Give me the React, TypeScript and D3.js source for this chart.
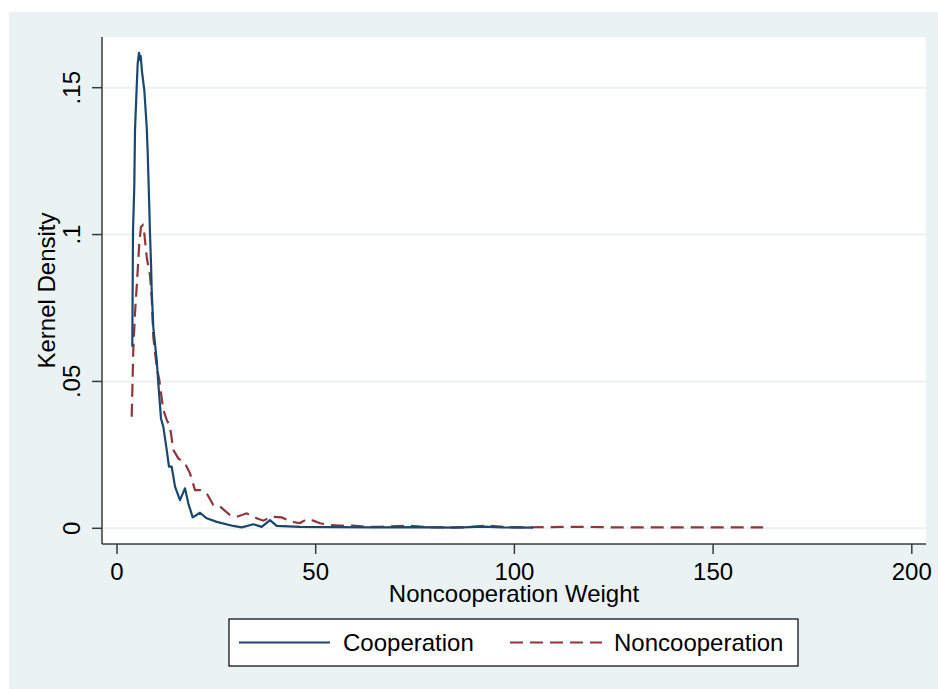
import React from "react";
import * as d3 from "d3";

// Kernel density estimates of the noncooperation weight, by group
const coopX = [3.85, 4.03, 4.35, 4.53, 4.96, 5.21, 5.54, 5.79, 5.96, 6.29, 6.87, 7.47, 7.73, 8.05, 8.3, 8.56, 8.73, 9.13, 9.99, 10.39, 11.07, 11.65, 12.51, 13.08, 13.76, 14.6, 15.85, 17.11, 17.94, 19.05, 20.89, 22.57, 25.09, 29.27, 31.38, 34.3, 36.41, 38.5, 40.19, 46.05, 55, 65, 75, 85, 92, 97, 104.7];
const coopY = [0.0618, 0.1015, 0.1163, 0.1356, 0.1503, 0.1583, 0.1619, 0.1595, 0.1608, 0.1555, 0.1492, 0.1367, 0.1277, 0.1129, 0.1005, 0.0903, 0.0811, 0.0686, 0.0573, 0.0494, 0.0374, 0.0346, 0.0267, 0.021, 0.021, 0.0142, 0.0096, 0.0136, 0.0085, 0.0037, 0.0053, 0.0034, 0.0022, 0.0008, 0.0003, 0.0014, 0.0005, 0.0028, 0.0008, 0.0005, 0.0004, 0.0003, 0.0004, 0.0002, 0.0006, 0.0003, 0.0002];

const noncoopX = [3.7, 4.1, 4.53, 4.96, 5.21, 5.61, 6.04, 6.47, 6.87, 7.47, 8.05, 8.3, 8.73, 9.13, 9.99, 10.64, 11.65, 12.51, 13.34, 14.17, 15.42, 17.11, 18.37, 19.63, 20.89, 22.57, 24.23, 25.92, 28.43, 30.12, 32.64, 35.15, 36.81, 38.93, 41.44, 43.96, 46.05, 47.74, 49.4, 51.08, 53.6, 56.11, 59.46, 62.83, 66.18, 72.9, 78.76, 87.14, 93.03, 99.72, 116.5, 126.6, 146.7, 162.6];
const noncoopY = [0.038, 0.0607, 0.0733, 0.0822, 0.0879, 0.0971, 0.1026, 0.1032, 0.1004, 0.0924, 0.0879, 0.0862, 0.0788, 0.0652, 0.055, 0.0505, 0.0403, 0.0369, 0.0346, 0.0267, 0.0238, 0.0221, 0.0187, 0.013, 0.013, 0.0119, 0.0079, 0.0074, 0.0045, 0.0039, 0.0051, 0.0034, 0.0026, 0.0039, 0.0037, 0.0022, 0.0018, 0.0031, 0.0026, 0.0017, 0.0011, 0.0009, 0.0009, 0.0005, 0.0005, 0.0009, 0.0003, 0.0003, 0.0009, 0.0003, 0.0005, 0.0003, 0.0003, 0.0003];

const xTicks = [0, 50, 100, 150, 200];
const yTicks = [0, 0.05, 0.1, 0.15];
const yTickLabels = ["0", ".05", ".1", ".15"];
const seriesNames = ["Cooperation", "Noncooperation"];
const xTitle = "Noncooperation Weight";
const yTitle = "Kernel Density";

const W = 938;
const H = 689;
const plot = { left: 102, right: 926, top: 37, bottom: 544 };
const BG = "#eaf2f3";
const BLUE = "#1a476f";
const RED = "#90353b";
const AXIS = "#3a3a3a";
const FONT = "'Liberation Sans', Arial, sans-serif";
const FS = 24;

export default function App() {
  const x = d3.scaleLinear().domain([0, 200]).range([117, 911.8]);
  const y = d3.scaleLinear().domain([0, 0.15]).range([528.3, 87.7]);

  const line = d3
    .line<[number, number]>()
    .x((d) => x(d[0]))
    .y((d) => y(d[1]))
    .curve(d3.curveLinear);

  const coop = coopX.map((v, i) => [v, coopY[i]] as [number, number]);
  const noncoop = noncoopX.map((v, i) => [v, noncoopY[i]] as [number, number]);

  const legend = { x: 229, y: 619, w: 569, h: 47 };
  const legendMid = legend.y + legend.h / 2;

  return (
    <svg
      width={W}
      height={H}
      style={{ position: "absolute", left: 0, top: 0, fontFamily: FONT }}
    >
      <rect x={0} y={0} width={W} height={H} fill="#ffffff" />
      <rect x={9} y={12} width={W - 9} height={H - 12} fill={BG} />
      <rect
        x={plot.left}
        y={plot.top}
        width={plot.right - plot.left}
        height={plot.bottom - plot.top}
        fill="#ffffff"
      />

      {/* horizontal gridlines */}
      {yTicks.map((t) => (
        <line
          key={"g" + t}
          x1={plot.left}
          x2={plot.right}
          y1={y(t)}
          y2={y(t)}
          stroke={BG}
          strokeWidth={2}
        />
      ))}

      {/* density curves */}
      <path d={line(noncoop) ?? ""} fill="none" stroke={RED} strokeWidth={2.2} strokeDasharray="13 7" />
      <path d={line(coop) ?? ""} fill="none" stroke={BLUE} strokeWidth={2.2} strokeLinejoin="round" />

      {/* axes */}
      <line x1={plot.left} x2={plot.left} y1={plot.top} y2={plot.bottom} stroke={AXIS} strokeWidth={1.5} />
      <line x1={plot.left} x2={plot.right} y1={plot.bottom} y2={plot.bottom} stroke={AXIS} strokeWidth={1.5} />

      {yTicks.map((t, i) => (
        <g key={"yt" + t}>
          <line x1={plot.left - 10} x2={plot.left} y1={y(t)} y2={y(t)} stroke={AXIS} strokeWidth={1.5} />
          <text
            transform={`translate(80, ${y(t)}) rotate(-90)`}
            textAnchor="middle"
            fontSize={FS}
            fill="#000"
          >
            {yTickLabels[i]}
          </text>
        </g>
      ))}

      {xTicks.map((t) => (
        <g key={"xt" + t}>
          <line x1={x(t)} x2={x(t)} y1={plot.bottom} y2={plot.bottom + 10} stroke={AXIS} strokeWidth={1.5} />
          <text x={x(t)} y={580} textAnchor="middle" fontSize={FS} fill="#000">
            {t}
          </text>
        </g>
      ))}

      <text x={(plot.left + plot.right) / 2} y={602} textAnchor="middle" fontSize={FS} fill="#000">
        {xTitle}
      </text>
      <text
        transform={`translate(55, ${(plot.top + plot.bottom) / 2}) rotate(-90)`}
        textAnchor="middle"
        fontSize={FS}
        fill="#000"
      >
        {yTitle}
      </text>

      {/* legend */}
      <rect x={legend.x} y={legend.y} width={legend.w} height={legend.h} fill="#ffffff" stroke="#000" strokeWidth={1.2} />
      <line x1={239} x2={330} y1={legendMid} y2={legendMid} stroke={BLUE} strokeWidth={2} />
      <text x={343} y={legendMid + 8.5} fontSize={FS} fill="#000">
        {seriesNames[0]}
      </text>
      <line x1={510} x2={602} y1={legendMid} y2={legendMid} stroke={RED} strokeWidth={2} strokeDasharray="13 7" />
      <text x={614} y={legendMid + 8.5} fontSize={FS} fill="#000">
        {seriesNames[1]}
      </text>
    </svg>
  );
}
